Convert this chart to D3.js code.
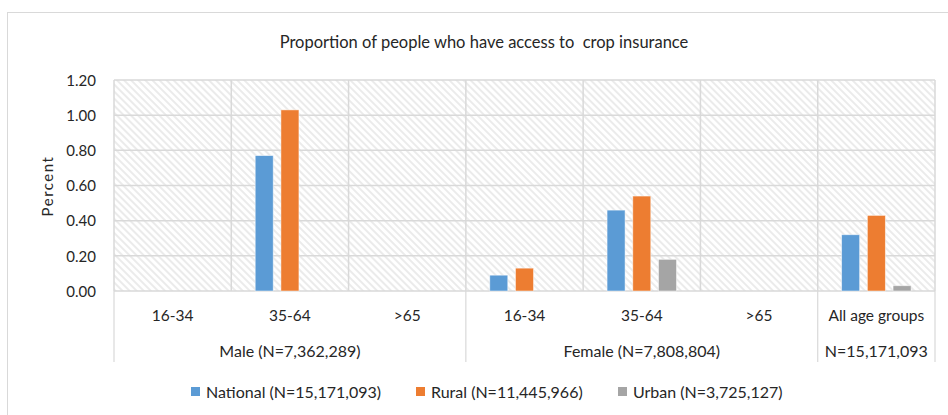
<!DOCTYPE html>
<html><head><meta charset="utf-8">
<script src="https://cdn.jsdelivr.net/npm/d3@7"></script>
<style>
body{margin:0;background:#fff;}
svg{display:block;font-family:"Lato","Open Sans",sans-serif;}
</style></head><body>
<svg id="c" width="948" height="415"></svg>
<script>
const categories = ["16-34","35-64",">65","16-34","35-64",">65","All age groups"];
const groupLabels = ["Male (N=7,362,289)","Female (N=7,808,804)","N=15,171,093"];
const groupSizes = [3,3,1];
const seriesNames = ["National (N=15,171,093)","Rural (N=11,445,966)","Urban (N=3,725,127)"];
const national = [0,0.77,0,0.09,0.46,0,0.32];
const rural    = [0,1.03,0,0.13,0.54,0,0.43];
const urban    = [0,0,0,0,0.18,0,0.03];
const yTicks = [0,0.2,0.4,0.6,0.8,1.0,1.2];
const colors = ["#5b9bd5","#ed7d31","#a5a5a5"];
const title = "Proportion of people who have access to  crop insurance";

const svg = d3.select("#c");
const L=114, R=935, T=80, B=291;
const values=[national,rural,urban];

// outer frame
svg.append("rect").attr("x",7.5).attr("y",12.5).attr("width",960).attr("height",420)
  .attr("fill","none").attr("stroke","#d9d9d9").attr("stroke-width",1);

const defs=svg.append("defs");
const pat=defs.append("pattern").attr("id","hatch").attr("patternUnits","userSpaceOnUse")
  .attr("width",5).attr("height",5).attr("patternTransform","rotate(-45)");
pat.append("rect").attr("width",5).attr("height",5).attr("fill","#fff");
pat.append("line").attr("x1",1).attr("y1",0).attr("x2",1).attr("y2",5)
  .attr("stroke","#e3e3e3").attr("stroke-width",1.4);

const x0=d3.scaleBand().domain(d3.range(categories.length)).range([L,R]).padding(0);
const x1=d3.scaleBand().domain(d3.range(3)).range([0,x0.bandwidth()]).paddingInner(0.3).paddingOuter(0.93);
const y=d3.scaleLinear().domain([0,1.2]).range([B,T]);

svg.append("rect").attr("x",L).attr("y",T).attr("width",R-L).attr("height",B-T).attr("fill","url(#hatch)");

const gridC="#d9d9d9";
svg.append("g").selectAll("line").data(yTicks).join("line")
  .attr("x1",L).attr("x2",R).attr("y1",d=>y(d)).attr("y2",d=>y(d))
  .attr("stroke",gridC).attr("stroke-width",1.5);
const bounds=d3.range(categories.length+1).map(i=> i<categories.length? x0(i): R);
svg.append("g").selectAll("line").data(bounds).join("line")
  .attr("x1",d=>d).attr("x2",d=>d).attr("y1",T).attr("y2",B)
  .attr("stroke",gridC).attr("stroke-width",1.5);

// group separators below axis
let cum=[0]; groupSizes.forEach(s=>cum.push(cum[cum.length-1]+s));
const sepX=cum.map(i=> i<categories.length? x0(i): R);
svg.append("g").selectAll("line").data(sepX).join("line")
  .attr("x1",d=>d).attr("x2",d=>d).attr("y1",B).attr("y2",362)
  .attr("stroke",gridC).attr("stroke-width",1.2);

// bars
const bg=svg.append("g");
values.forEach((arr,si)=>{
  bg.selectAll(null).data(arr.map((v,i)=>({v,i}))).join("rect")
    .filter(d=>d.v>0)
    .attr("x",d=>x0(d.i)+x1(si)).attr("width",x1.bandwidth())
    .attr("y",d=>y(d.v)).attr("height",d=>B-y(d.v))
    .attr("fill",colors[si]).attr("stroke","#fff").attr("stroke-opacity",0.6).attr("stroke-width",0.8);
});

// y axis
const ya=svg.append("g").attr("transform",`translate(${L-15},0)`)
  .call(d3.axisLeft(y).tickValues(yTicks).tickFormat(d3.format(".2f")).tickSize(0));
ya.select(".domain").remove();
ya.selectAll("text").attr("font-size",15).attr("fill","#262626").attr("font-family","Lato").attr("dy","0.35em");

svg.append("text").attr("transform","translate(48,186) rotate(-90)").attr("text-anchor","middle")
  .attr("dy","0.35em").attr("font-size",15).attr("letter-spacing","1.5px").attr("fill","#262626").text("Percent");

// x axis category labels
const xa=svg.append("g").attr("transform",`translate(0,${B})`)
  .call(d3.axisBottom(x0).tickFormat(i=>categories[i]).tickSize(0));
xa.select(".domain").remove();
xa.selectAll("text").attr("font-size",15.5).attr("fill","#262626").attr("font-family","Lato").attr("dy",0).attr("y",30);

// group labels
svg.append("g").selectAll("text").data(groupLabels).join("text")
  .attr("x",(d,i)=>(sepX[i]+sepX[i+1])/2).attr("y",357).attr("text-anchor","middle")
  .attr("font-size",16).attr("fill","#262626").text(d=>d);

// title
svg.append("text").attr("x",484).attr("y",48).attr("text-anchor","middle")
  .attr("font-size",16.5).attr("fill","#262626").style("white-space","pre").text(title);

// legend
const legX=[191,416,618];
const lg=svg.append("g");
seriesNames.forEach((n,i)=>{
  lg.append("rect").attr("x",legX[i]).attr("y",387).attr("width",9).attr("height",9).attr("fill",colors[i]);
  lg.append("text").attr("x",legX[i]+15).attr("y",397.5).attr("font-size",16).attr("fill","#262626").text(n);
});
</script>
</body></html>
